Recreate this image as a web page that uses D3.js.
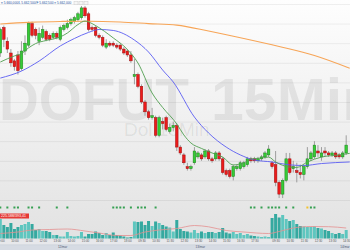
<!DOCTYPE html>
<html>
<head>
<meta charset="utf-8">
<script src="https://d3js.org/d3.v7.min.js"></script>
<style>
  body { margin: 0; background: #fff; }
  svg { display: block; font-family: "Liberation Sans", Arial, sans-serif; }
</style>
</head>
<body>
<svg width="350" height="250"></svg>
<script>
// DOFUT 15 min candles, three sessions (index 0..98)
const open = [
  5687.5, 5694.0, 5690.5, 5687.5, 5685.5, 5687.0, 5683.5, 5688.0, 5689.5, 5695.0,
  5693.5, 5690.5, 5691.5, 5693.0, 5692.0, 5691.5, 5692.5, 5691.0, 5693.5, 5694.0,
  5695.0, 5695.5, 5696.0, 5696.5, 5699.0, 5697.5, 5694.0, 5694.0, 5692.0, 5691.5,
  5689.0, 5690.0, 5690.0, 5689.5, 5689.5, 5688.5, 5688.0, 5687.0, 5681.5, 5682.0,
  5679.0, 5675.0, 5672.5, 5671.0, 5671.0, 5666.5, 5670.0, 5671.0, 5667.5, 5668.5,
  5669.0, 5663.5, 5661.5, 5658.5, 5658.0, 5659.5, 5661.0, 5661.5, 5661.0, 5662.5,
  5660.5, 5660.5, 5662.0, 5660.5, 5657.5, 5657.5, 5656.0, 5658.0, 5658.0, 5658.5,
  5659.0, 5660.5, 5660.5, 5660.0, 5660.5, 5661.0, 5661.5, 5659.5, 5659.0, 5654.5,
  5651.5, 5655.0, 5660.5, 5658.0, 5657.5, 5657.0, 5656.5, 5658.5, 5660.5, 5661.0,
  5662.5, 5661.0, 5662.5, 5662.0, 5661.5, 5662.0, 5661.5, 5661.0, 5662.0];
const high = [
  5694.0, 5694.5, 5691.5, 5688.5, 5686.0, 5688.0, 5690.5, 5692.0, 5695.5, 5695.5,
  5694.0, 5694.0, 5694.5, 5693.5, 5692.5, 5693.0, 5693.0, 5694.5, 5695.0, 5696.0,
  5696.5, 5697.0, 5698.0, 5699.5, 5699.5, 5698.0, 5694.5, 5694.5, 5692.5, 5692.0,
  5691.0, 5690.5, 5690.5, 5690.0, 5690.0, 5689.0, 5688.5, 5688.0, 5686.0, 5682.5,
  5679.5, 5675.5, 5673.0, 5673.5, 5671.5, 5671.5, 5671.0, 5671.5, 5669.5, 5670.0,
  5669.5, 5664.0, 5662.0, 5659.5, 5659.0, 5663.5, 5662.5, 5662.0, 5663.0, 5663.0,
  5661.0, 5662.5, 5662.5, 5661.0, 5658.0, 5658.0, 5659.0, 5659.0, 5660.0, 5660.0,
  5661.0, 5661.0, 5661.0, 5661.0, 5661.5, 5662.5, 5664.0, 5660.0, 5662.5, 5655.0,
  5655.5, 5662.0, 5662.0, 5660.0, 5659.5, 5659.0, 5659.0, 5663.5, 5662.5, 5665.0,
  5664.0, 5663.5, 5663.5, 5662.5, 5662.5, 5662.5, 5662.0, 5662.5, 5666.5];
const low = [
  5686.5, 5689.0, 5687.5, 5684.0, 5683.0, 5682.0, 5683.0, 5687.0, 5689.0, 5691.5,
  5691.0, 5689.5, 5691.0, 5690.5, 5690.5, 5691.0, 5691.0, 5690.5, 5693.0, 5693.5,
  5694.5, 5695.0, 5695.5, 5696.0, 5696.5, 5693.0, 5693.0, 5691.5, 5691.0, 5689.0,
  5688.5, 5689.0, 5689.0, 5688.5, 5688.0, 5687.0, 5686.5, 5685.0, 5679.5, 5678.5,
  5674.5, 5671.5, 5670.5, 5670.5, 5666.0, 5666.0, 5668.0, 5667.5, 5667.0, 5667.5,
  5662.5, 5661.5, 5659.0, 5657.5, 5657.5, 5659.0, 5660.5, 5660.0, 5660.5, 5660.0,
  5659.5, 5660.0, 5660.0, 5656.5, 5656.0, 5655.5, 5655.0, 5657.5, 5657.5, 5658.0,
  5658.5, 5659.5, 5659.5, 5659.5, 5660.0, 5660.5, 5661.0, 5658.0, 5653.5, 5650.5,
  5650.5, 5654.5, 5656.5, 5657.0, 5654.5, 5655.5, 5655.0, 5658.0, 5660.0, 5660.5,
  5661.0, 5660.0, 5661.0, 5661.0, 5661.0, 5660.5, 5660.5, 5660.5, 5661.5];
const close = [
  5693.5, 5691.0, 5688.5, 5685.0, 5684.0, 5683.0, 5688.0, 5690.0, 5695.0, 5692.0,
  5692.0, 5692.5, 5693.5, 5691.0, 5691.0, 5692.5, 5691.5, 5694.0, 5694.5, 5695.0,
  5696.0, 5696.5, 5697.5, 5699.0, 5697.0, 5693.5, 5693.5, 5692.0, 5691.5, 5689.5,
  5690.0, 5689.5, 5689.5, 5689.0, 5688.5, 5687.5, 5687.0, 5685.5, 5682.0, 5679.0,
  5675.0, 5672.5, 5671.0, 5671.5, 5666.5, 5671.0, 5669.5, 5668.0, 5668.5, 5669.0,
  5663.5, 5662.0, 5659.5, 5658.0, 5658.5, 5662.5, 5662.0, 5660.5, 5662.5, 5660.5,
  5660.0, 5662.0, 5660.5, 5657.0, 5656.5, 5656.0, 5658.5, 5658.5, 5659.5, 5659.5,
  5660.5, 5660.0, 5660.0, 5660.5, 5661.0, 5662.0, 5663.0, 5658.5, 5654.5, 5651.5,
  5655.0, 5660.5, 5657.0, 5658.5, 5657.0, 5656.5, 5658.5, 5660.5, 5662.0, 5664.0,
  5662.0, 5662.0, 5662.0, 5661.5, 5662.0, 5661.0, 5661.0, 5662.0, 5664.0];
const volume = [
  19500, 13500, 11500, 15500, 9500, 11500, 13500, 14500, 16500, 14500,
  8500, 9500, 7500, 7500, 6500, 3500, 3500, 2000, 2000, 6500,
  2500, 2000, 2500, 6500, 2000, 4500, 4500, 7000, 5500, 3500,
  5500, 3500, 6000, 3500, 3000, 2000, 1000, 1500, 17000, 16500,
  17000, 13500, 17500, 12500, 17000, 15500, 13500, 12000, 11000, 7000,
  18500, 9500, 7500, 7000, 6000, 8500, 5500, 7000, 5500, 6500,
  6500, 5500, 6500, 10500, 6000, 5000, 6500, 4500, 5500, 3500,
  4500, 3000, 2500, 2000, 1500, 2000, 1500, 20500, 24500, 21000,
  23500, 19500, 17500, 18500, 14500, 12500, 12000, 11500, 11500, 12000,
  10500, 10000, 8500, 7500, 5500, 4500, 5500, 4500, 8500];

// moving averages at sample candles
const fastIdx = [0, 4, 6, 8, 10, 13, 17, 19, 22, 24, 26, 27, 32, 36, 39, 43, 46, 50, 52, 54,
  57, 60, 63, 66, 69, 71, 74, 76, 78, 82, 84, 87, 91, 96, 99];
const fastMa = [5685.2, 5686.75, 5687.35, 5688.8, 5689.9, 5690.7, 5691.6, 5692.6, 5694.75, 5695.65,
  5695.0, 5694.5, 5691.35, 5688.4, 5684.95, 5677.3, 5673.6, 5669.4, 5666.6, 5664.55,
  5663.15, 5662.0, 5660.95, 5658.95, 5659.45, 5660.45, 5660.7, 5660.95, 5659.7, 5658.4,
  5658.3, 5659.7, 5660.95, 5661.5, 5661.9];
const midIdx = [0, 6, 11, 17, 21, 25, 28, 32, 38, 42, 46, 49, 55, 59, 64, 68, 72, 77, 82, 86, 91, 99];
const midMa = [5681.1, 5682.9, 5685.45, 5689.3, 5691.2, 5692.75, 5693.5, 5693.25, 5690.8, 5687.75,
  5683.15, 5680.1, 5671.15, 5667.1, 5663.5, 5661.5, 5660.2, 5659.7, 5658.95, 5658.8, 5659.3, 5659.7];
const slowIdx = [0, 8, 17, 25, 34, 42, 50, 59, 69, 79, 89, 99];
const slowMa = [5694.9, 5695.3, 5695.55, 5695.6, 5695.4, 5695.0, 5694.6, 5693.1, 5691.2, 5689.15, 5686.85, 5683.6];
const volMaIdx = [0, 5, 9, 14, 19, 24, 28, 33, 37, 41, 45, 50, 55, 59, 64, 69, 76, 79, 83, 88, 93, 98];
const volMa = [5000, 6500, 8500, 9000, 9500, 7500, 5500, 3000, 3000, 6500, 8500, 10000, 13000, 11700,
  8000, 6500, 5000, 7000, 10500, 12000, 11800, 10500];

// signal markers
const greenDots = [0, 2, 4, 5, 8, 9, 11, 16, 19, 32, 33, 34, 35, 37, 39, 40, 41, 44,
  71, 72, 74, 76, 77, 78, 79, 81, 83, 88, 89];
const yellowDots = [87];

// time axis
const tickIdx = [0, 4, 8, 12, 16, 20, 24, 28, 32, 36, 40, 44, 48, 52, 56, 60, 64, 68, 72, 78, 82, 86, 90, 94, 98];
const tickLabels = ["09:00", "10:00", "11:00", "12:00", "13:00", "14:00", "15:00", "16:00", "17:00", "18:00",
  "09:30", "10:30", "11:30", "12:30", "13:30", "14:30", "15:30", "16:30", "17:30",
  "09:30", "10:30", "11:30", "12:30", "13:30", "14:30"];
const dateIdx = [17.5, 56.5, 97.5];
const dateLabels = ["12/mar", "13/mar", "14/mar"];

const W = 350;
const svg = d3.select("svg");

const x = d3.scaleLinear().domain([0, 98]).range([0.3, 346.2]);
const y = d3.scaleLinear().domain([5650, 5700]).range([200, 4]);
const yVol = d3.scaleLinear().domain([0, 34000]).range([238.5, 204.5]);

// background
const grad = svg.append("defs").append("linearGradient")
  .attr("id", "bg").attr("x1", 0).attr("y1", 0).attr("x2", 0).attr("y2", 1);
grad.append("stop").attr("offset", "0%").attr("stop-color", "#fefefe");
grad.append("stop").attr("offset", "100%").attr("stop-color", "#e2e2e2");
svg.append("rect").attr("width", W).attr("height", 240).attr("fill", "url(#bg)");

// horizontal grid
svg.append("g")
  .call(d3.axisRight(y).ticks(10).tickSize(W).tickFormat(""))
  .call(g => g.select(".domain").remove())
  .selectAll("line")
    .attr("stroke", "#000")
    .attr("stroke-opacity", 0.06);

// watermark
svg.append("text")
  .attr("x", -1).attr("y", 120)
  .attr("textLength", 190).attr("lengthAdjust", "spacingAndGlyphs")
  .style("font-size", "59px").style("font-weight", "bold")
  .attr("fill", "#000").attr("fill-opacity", 0.07)
  .text("DOFUT");
svg.append("text")
  .attr("x", 211).attr("y", 120)
  .style("font-size", "59px").style("font-weight", "bold")
  .attr("fill", "#000").attr("fill-opacity", 0.07)
  .text("15Min");
svg.append("text")
  .attr("x", 124).attr("y", 136)
  .style("font-size", "19px")
  .attr("fill", "#000").attr("fill-opacity", 0.08)
  .text("Dol 15Min");

const candles = d3.range(open.length).map(i => ({
  i: i, o: open[i], h: high[i], l: low[i], c: close[i], v: volume[i], up: close[i] >= open[i]
}));

// volume bars
svg.append("g").selectAll("rect")
  .data(candles)
  .join("rect")
    .attr("x", d => x(d.i) - 1.5)
    .attr("width", 3)
    .attr("y", d => yVol(d.v))
    .attr("height", d => yVol(0) - yVol(d.v))
    .attr("fill", d => d.up ? "#5ec6bf" : "#35a9a0");

const line = d3.line().curve(d3.curveMonotoneX);

svg.append("path")
  .attr("d", line(volMaIdx.map((k, j) => [x(k), yVol(volMa[j])])))
  .attr("fill", "none").attr("stroke", "#e58f8f").attr("stroke-width", 0.8);

// volume label
svg.append("rect").attr("x", 0).attr("y", 213.5).attr("width", 29).attr("height", 5).attr("fill", "#e53935");
svg.append("text").attr("x", 1).attr("y", 217.4)
  .style("font-size", "3.6px").attr("fill", "#fff").text("225.588/393,41");

// signal dots
svg.append("g").selectAll("rect")
  .data(greenDots)
  .join("rect")
    .attr("x", d => x(d) - 1).attr("y", 206.5).attr("width", 2).attr("height", 2)
    .attr("fill", "#36a052");
svg.append("g").selectAll("rect")
  .data(yellowDots)
  .join("rect")
    .attr("x", d => x(d) - 1).attr("y", 206.5).attr("width", 2).attr("height", 2)
    .attr("fill", "#f2c12e");

// candles
const cg = svg.append("g");
cg.selectAll("line")
  .data(candles)
  .join("line")
    .attr("x1", d => x(d.i)).attr("x2", d => x(d.i))
    .attr("y1", d => y(d.h)).attr("y2", d => y(d.l))
    .attr("stroke", "#8a8a8a").attr("stroke-width", 0.8);
cg.selectAll("rect")
  .data(candles)
  .join("rect")
    .attr("x", d => x(d.i) - 1.3)
    .attr("width", 2.6)
    .attr("y", d => y(Math.max(d.o, d.c)))
    .attr("height", d => Math.max(1, Math.abs(y(d.o) - y(d.c))))
    .attr("fill", d => d.up ? "#35cc35" : "#ec1b1b")
    .attr("stroke", d => d.up ? "#1f7f1f" : "#9c1010")
    .attr("stroke-width", 0.5);

// moving averages
svg.append("path")
  .attr("d", line(slowIdx.map((k, j) => [x(k), y(slowMa[j])])))
  .attr("fill", "none").attr("stroke", "#f7a557").attr("stroke-width", 1.1);
svg.append("path")
  .attr("d", line(midIdx.map((k, j) => [x(k), y(midMa[j])])))
  .attr("fill", "none").attr("stroke", "#5a5cf2").attr("stroke-width", 0.9);
svg.append("path")
  .attr("d", line(fastIdx.map((k, j) => [x(k), y(fastMa[j])])))
  .attr("fill", "none").attr("stroke", "#4f9e4f").attr("stroke-width", 0.9);

// header
svg.append("text").attr("x", 1).attr("y", 4.2)
  .style("font-size", "3.2px").attr("fill", "#2250a0")
  .text("\u2261 5.660,000/L 5.662,500/F 5.662,500 \u2261 5.662,000");
svg.append("g").selectAll("rect")
  .data([0, 1, 2])
  .join("rect")
    .attr("x", d => 74 + d * 5).attr("y", 1.3).attr("width", 4).attr("height", 3.5)
    .attr("fill", "#f6f6f6").attr("stroke", "#c4c4c4").attr("stroke-width", 0.4);

// time axis strip
svg.append("rect").attr("y", 239.3).attr("width", W).attr("height", 5.4).attr("fill", "#e7e8eb");
svg.append("rect").attr("y", 244.7).attr("width", W).attr("height", 5.3).attr("fill", "#d6dbe3");
svg.append("line").attr("x1", 0).attr("x2", W).attr("y1", 244.7).attr("y2", 244.7)
  .attr("stroke", "#c3c9d3").attr("stroke-width", 0.5);

svg.append("g")
  .attr("transform", "translate(0,239.3)")
  .call(d3.axisBottom(x).tickValues(tickIdx).tickFormat((d, i) => tickLabels[i]).tickSize(0).tickPadding(1))
  .call(g => g.select(".domain").remove())
  .selectAll("text")
    .style("font-size", "3px").style("font-family", "Liberation Sans").attr("fill", "#555");

svg.append("g")
  .attr("transform", "translate(0,244.9)")
  .call(d3.axisBottom(x).tickValues(dateIdx).tickFormat((d, i) => dateLabels[i]).tickSize(0).tickPadding(1))
  .call(g => g.select(".domain").remove())
  .selectAll("text")
    .style("font-size", "3px").style("font-family", "Liberation Sans").attr("fill", "#4a5570");
</script>
</body>
</html>
